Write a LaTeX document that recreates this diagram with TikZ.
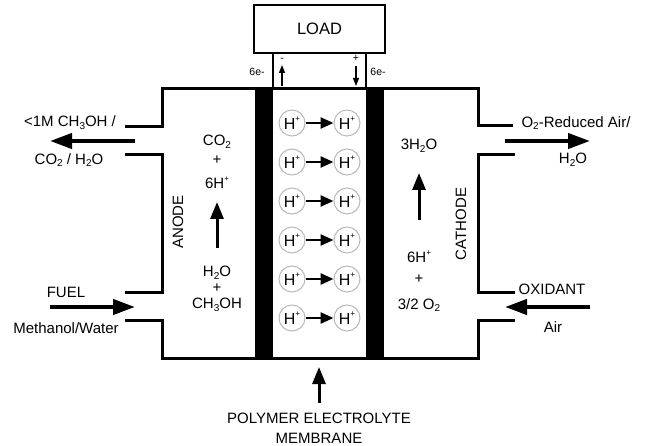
\documentclass[tikz,border=0pt]{standalone}
\usepackage{fontspec}
\setmainfont{Liberation Sans}
\usetikzlibrary{arrows.meta,positioning}

\newcommand{\sbs}[1]{\raisebox{-0.35ex}{\fontsize{10}{10}\selectfont #1}}
\newcommand{\sps}[1]{\raisebox{0.95ex}{\fontsize{8}{8}\selectfont #1}}

\begin{document}
\begin{tikzpicture}[x=1pt,y=-1pt,
  every node/.style={font=\fontsize{15}{17}\selectfont, inner sep=0pt},
  small/.style={font=\fontsize{10.5}{12}\selectfont},
  wall/.style={line width=3pt, line join=miter},
  wire/.style={line width=1.6pt},
  bigarrow/.style={line width=4pt, -{Triangle[length=22pt,width=15pt]}},
  midarrow/.style={line width=3pt, -{Triangle[length=17pt,width=13pt]}},
  hion/.style={circle, draw=gray!55, line width=1pt, minimum size=26pt, font=\fontsize{16}{18}\selectfont},
  harrow/.style={line width=2.5pt, -{Triangle[length=13pt,width=11pt]}},
  tinyarrow/.style={line width=1.3pt, -{Triangle[length=8pt,width=6pt]}}]
  \useasboundingbox (0,0) rectangle (645,446);

  % cell walls with the four ports
  \draw[wall] (125,127) -- (162,127) -- (162,89) -- (478,89) -- (478,126) -- (513,126);
  \draw[wall] (515,155) -- (478,155) -- (478,293) -- (515,293);
  \draw[wall] (515,320) -- (478,320) -- (478,358) -- (162,358) -- (162,320) -- (125,320);
  \draw[wall] (125,293) -- (162,293) -- (162,155) -- (125,155);

  % electrodes
  \fill (255,89) rectangle (273,358);
  \fill (366,89) rectangle (384,358);

  % load and wires
  \node[draw, line width=1.2pt, minimum width=131pt, minimum height=48pt, font=\fontsize{16.5}{18}\selectfont] (load) at (319.5,29) {LOAD};
  \coordinate (ltop) at (273,89);
  \coordinate (rtop) at (366,89);
  \draw[wire] (load.south -| ltop) -- (ltop);
  \draw[wire] (load.south -| rtop) -- (rtop);
  \node[small] (eleft) at (257,72) {6e-};
  \node[small] (eright) at (378,72) {6e-};
  \node[small] (neg) at (282,60) {-};
  \node[small] (pos) at (356,58) {+};
  \coordinate (negfoot) at (282,86);
  \coordinate (negtip) at (282,65);
  \coordinate (posfoot) at (356,66);
  \coordinate (postip) at (356,86);
  \draw[tinyarrow] (negfoot) -- (negtip);
  \draw[tinyarrow] (posfoot) -- (postip);

  % protons through the membrane
  \foreach \y [count=\i] in {123,162,201,240,279,318} {
    \node[hion] (hl\i) at (292,\y) {H\sps{+}};
    \node[hion] (hr\i) at (347,\y) {H\sps{+}};
    \draw[harrow] (hl\i) -- (hr\i);
  }

  % anode side
  \node[rotate=90] (anode) at (178,222) {ANODE};
  \node (aco) at (217,142) {CO\sbs{2}};
  \node (aplus) at (217,160) {+};
  \node (ahp) at (217,183) {6H\sps{+}};
  \node (awat) at (217,273) {H\sbs{2}O};
  \node (aplus2) at (217,288) {+};
  \node (ameth) at (217,305) {CH\sbs{3}OH};
  \coordinate (afoot) at (217,248);
  \coordinate (atip) at (217,202);
  \draw[midarrow] (afoot) -- (atip);

  % cathode side
  \node[rotate=90] (cathode) at (461,224) {CATHODE};
  \node (cwat) at (419,146) {3H\sbs{2}O};
  \node (chp) at (419,257) {6H\sps{+}};
  \node (cplus) at (419,279) {+};
  \node (cox) at (419,305) {3/2 O\sbs{2}};
  \coordinate (cfoot) at (419,220);
  \coordinate (ctip) at (419,173);
  \draw[midarrow] (cfoot) -- (ctip);

  % anode ports
  \node (exhA) at (70,123) {<1M CH\sbs{3}OH /};
  \node (exhB) at (69,160) {CO\sbs{2} / H\sbs{2}O};
  \coordinate (exhin) at (135,141);
  \coordinate (exhout) at (50,141);
  \draw[bigarrow] (exhin) -- (exhout);
  \node (fuel) at (66,292) {FUEL};
  \node (meth) at (66,328) {Methanol/Water};
  \coordinate (fuelout) at (50,307);
  \coordinate (fuelin) at (135,307);
  \draw[bigarrow] (fuelout) -- (fuelin);

  % cathode ports
  \node (redA) at (576,123) {O\sbs{2}-Reduced Air/};
  \node (redB) at (573,160) {H\sbs{2}O};
  \coordinate (redin) at (505,141);
  \coordinate (redout) at (590,141);
  \draw[bigarrow] (redin) -- (redout);
  \node (oxi) at (552,289) {OXIDANT};
  \node (air) at (553,327) {Air};
  \coordinate (airout) at (590,307);
  \coordinate (airin) at (505,307);
  \draw[bigarrow] (airout) -- (airin);

  % membrane label
  \node[align=center, font=\fontsize{15}{20}\selectfont] (pem) at (319,428) {POLYMER ELECTROLYTE\\MEMBRANE};
  \coordinate (pemfoot) at (319,403);
  \coordinate (pemtip) at (319,367);
  \draw[midarrow] (pemfoot) -- (pemtip);
\end{tikzpicture}
\end{document}
